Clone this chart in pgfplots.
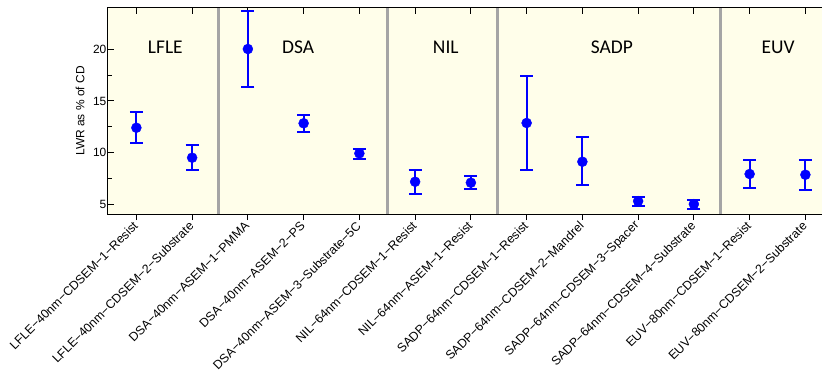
\documentclass[border=0pt]{standalone}
\usepackage{fontspec}
\setmainfont{Liberation Sans}
\newfontfamily\carlito{Carlito}
\usepackage{pgfplots}
\usepackage{pgfplotstable}
\pgfplotsset{compat=1.18}
\definecolor{bgy}{RGB}{255,254,234}
\definecolor{sepgray}{RGB}{165,165,165}
\definecolor{pblue}{RGB}{0,0,255}
\pgfplotstableread{
x y ep em
0 12.41 1.49 1.48
1 9.51 1.20 1.19
2 20.03 3.71 3.71
3 12.84 0.77 0.82
4 9.93 0.45 0.52
5 7.18 1.17 1.16
6 7.09 0.64 0.61
7 12.87 4.55 4.55
8 9.12 2.39 2.29
9 5.31 0.42 0.45
10 5.02 0.42 0.45
11 7.93 1.32 1.39
12 7.86 1.42 1.45
}\lwr
\begin{document}
\begin{tikzpicture}
\useasboundingbox (-108bp,-176bp) rectangle (714bp,214bp);
\begin{axis}[
  at={(0,0)}, anchor=south west,
  scale only axis, width=716bp, height=206bp,
  xmin=-0.509, xmax=12.334, ymin=4.06, ymax=24,
  axis background/.style={fill=bgy},
  axis line style={line width=1bp},
  tick align=inside,
  xtick={0,...,12}, xticklabels={}, xtick pos=right,
  ytick={5,10,15,20}, minor y tick num=1, ytick pos=left,
  major tick length=6bp, minor tick length=3.5bp,
  tick style={line width=1bp, black},
  yticklabel style={font=\fontsize{12}{12}\selectfont, inner sep=1.5bp},
  /pgf/number format/assume math mode=true,
  ylabel={LWR as \% of CD},
  every axis y label/.style={at={(axis description cs:-0.0391,0.5)}, rotate=90, anchor=center, font=\fontsize{12}{12}\selectfont},
]
\addplot[sepgray, line width=3bp] coordinates {(1.47,4.06) (1.47,24)};
\addplot[sepgray, line width=3bp] coordinates {(4.5,4.06) (4.5,24)};
\addplot[sepgray, line width=3bp] coordinates {(6.47,4.06) (6.47,24)};
\addplot[sepgray, line width=3bp] coordinates {(10.47,4.06) (10.47,24)};
\addplot[pblue, only marks, mark=*, mark size=5bp,
  error bars/.cd, y dir=both, y explicit,
  error bar style={line width=1.8bp, pblue},
  error mark options={rotate=90, mark size=6.5bp, line width=1.8bp, pblue}]
  table[x=x, y=y, y error plus=ep, y error minus=em] {\lwr};
\node[font=\carlito\fontsize{19.5}{19.5}\selectfont] at (axis cs:0.52,20.2) {LFLE};
\node[font=\carlito\fontsize{19.5}{19.5}\selectfont] at (axis cs:2.9,20.2) {DSA};
\node[font=\carlito\fontsize{19.5}{19.5}\selectfont] at (axis cs:5.55,20.2) {NIL};
\node[font=\carlito\fontsize{19.5}{19.5}\selectfont] at (axis cs:8.53,20.2) {SADP};
\node[font=\carlito\fontsize{19.5}{19.5}\selectfont] at (axis cs:11.51,20.2) {EUV};
\end{axis}
\begin{axis}[
  at={(0,0)}, anchor=south west,
  scale only axis, width=716bp, height=206bp,
  xmin=-0.509, xmax=12.334, ymin=4.06, ymax=24,
  axis line style={draw=none},
  tick align=outside,
  xtick={0,...,12}, xtick pos=left, ytick=\empty,
  major tick length=6bp,
  tick style={line width=1bp, black},
  xticklabel shift=3bp,
  xticklabels={LFLE−40nm−CDSEM−1−Resist, LFLE−40nm−CDSEM−2−Substrate, DSA−40nm−ASEM−1−PMMA, DSA−40nm−ASEM−2−PS, DSA−40nm−ASEM−3−Substrate−5C, NIL−64nm−CDSEM−1−Resist, NIL−64nm−ASEM−1−Resist, SADP−64nm−CDSEM−1−Resist, SADP−64nm−CDSEM−2−Mandrel, SADP−64nm−CDSEM−3−Spacer, SADP−64nm−CDSEM−4−Substrate, EUV−80nm−CDSEM−1−Resist, EUV−80nm−CDSEM−2−Substrate},
  xticklabel style={rotate=45, anchor=east, font=\fontsize{12.4}{12.4}\selectfont, inner sep=1bp},
]
\end{axis}
\end{tikzpicture}
\end{document}
